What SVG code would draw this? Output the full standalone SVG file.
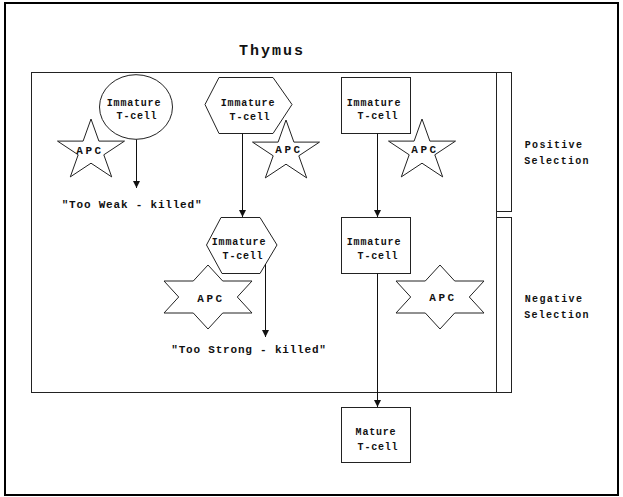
<svg xmlns="http://www.w3.org/2000/svg" xmlns:xlink="http://www.w3.org/1999/xlink" width="623" height="497" viewBox="0 0 623 497">
<style>
text{font-family:"Liberation Mono","DejaVu Sans Mono",monospace;font-weight:bold;fill:#111;text-anchor:middle}
.node{fill:#fff;stroke:#222;stroke-width:1}
.box{fill:none;stroke:#222;stroke-width:1}
.lbl{font-size:10px;letter-spacing:0.8px}
.apc{font-size:11px;letter-spacing:2.5px}
.side{font-size:10px;letter-spacing:1.3px}
.kill{font-size:11px;letter-spacing:0.8px}
.title{font-size:15px;letter-spacing:2px}
.conn{stroke:#111;stroke-width:1;fill:none;marker-end:url(#arr)}
</style>
<defs>
<marker id="arr" markerUnits="userSpaceOnUse" markerWidth="8" markerHeight="8" refX="7" refY="3.5" orient="auto">
<path d="M0,0 L7,3.5 L0,7 Z" fill="#111"/>
</marker>
<polygon id="star5" points="0,-32 7.9,-9.9 33.5,-9.9 12.8,3.8 20.7,25.9 0,12.2 -20.7,25.9 -12.8,3.8 -33.5,-9.9 -7.9,-9.9" fill="#fff" stroke="#222" stroke-width="1"/>
<polygon id="star6" points="0,-32 14.7,-16 44,-16 29.3,0 44,16 14.7,16 0,32 -14.7,16 -44,16 -29.3,0 -44,-16 -14.7,-16" fill="#fff" stroke="#222" stroke-width="1"/>
</defs>
<rect x="0" y="0" width="623" height="497" fill="#fff"/>
<rect x="5" y="3" width="613" height="492" fill="none" stroke="#000" stroke-width="2"/>
<text class="title" x="272" y="55">Thymus</text>
<g id="thymus">
<rect class="box" x="31.5" y="72.5" width="465" height="320"/>
</g>
<g id="positive-selection">
<rect class="box" x="496.5" y="72.5" width="15" height="139"/>
<text class="side" x="554" y="147.5">Positive</text>
<text class="side" x="557" y="163.5">Selection</text>
</g>
<g id="negative-selection">
<rect class="box" x="496.5" y="217.5" width="15" height="175"/>
<text class="side" x="554" y="301.5">Negative</text>
<text class="side" x="557" y="317.5">Selection</text>
</g>
<g id="apc1"><use xlink:href="#star5" x="91" y="151"/><text class="apc" x="90" y="154">APC</text></g>
<g id="apc2"><use xlink:href="#star5" x="286" y="152"/><text class="apc" x="289" y="153">APC</text></g>
<g id="apc3"><use xlink:href="#star5" x="422" y="151"/><text class="apc" x="425" y="153">APC</text></g>
<g id="apc4"><use xlink:href="#star6" x="208" y="297"/><text class="apc" x="211" y="302">APC</text></g>
<g id="apc5"><use xlink:href="#star6" x="440" y="297"/><text class="apc" x="443" y="301">APC</text></g>
<g id="tcell-circle">
<ellipse class="node" cx="136" cy="107" rx="36.5" ry="32.3"/>
<text class="lbl" x="134" y="106">Immature</text>
<text class="lbl" x="137" y="118.5">T-cell</text>
</g>
<g id="tcell-hex1">
<polygon class="node" points="205,104.5 219,77.5 273,77.5 292,104.5 273,133.5 219,133.5"/>
<text class="lbl" x="248" y="106">Immature</text>
<text class="lbl" x="250" y="119.5">T-cell</text>
</g>
<g id="tcell-hex2">
<polygon class="node" points="206.5,245 221,217.5 260,217.5 277,245 260,273.5 222,273.5"/>
<text class="lbl" x="239" y="245">Immature</text>
<text class="lbl" x="243" y="258.5">T-cell</text>
</g>
<g id="tcell-rect1">
<rect class="node" x="341.5" y="77.5" width="69" height="56"/>
<text class="lbl" x="374" y="106">Immature</text>
<text class="lbl" x="378" y="118.5">T-cell</text>
</g>
<g id="tcell-rect2">
<rect class="node" x="341.5" y="217.5" width="69" height="56"/>
<text class="lbl" x="374" y="245">Immature</text>
<text class="lbl" x="378" y="258.5">T-cell</text>
</g>
<g id="mature-tcell">
<rect class="node" x="341.5" y="407.5" width="69" height="55"/>
<text class="lbl" x="376" y="434.5">Mature</text>
<text class="lbl" x="378" y="449.5">T-cell</text>
</g>
<g id="too-weak"><text class="kill" x="132" y="208">"Too Weak - killed"</text></g>
<g id="too-strong"><text class="kill" x="249" y="353">"Too Strong - killed"</text></g>
<g id="connectors">
<line class="conn" x1="136.5" y1="139.5" x2="136.5" y2="188"/>
<line class="conn" x1="242.5" y1="133.5" x2="242.5" y2="217"/>
<line class="conn" x1="265.5" y1="264" x2="265.5" y2="337"/>
<line class="conn" x1="377.5" y1="133.5" x2="377.5" y2="217"/>
<line class="conn" x1="377.5" y1="273.5" x2="377.5" y2="407"/>
</g>
</svg>
